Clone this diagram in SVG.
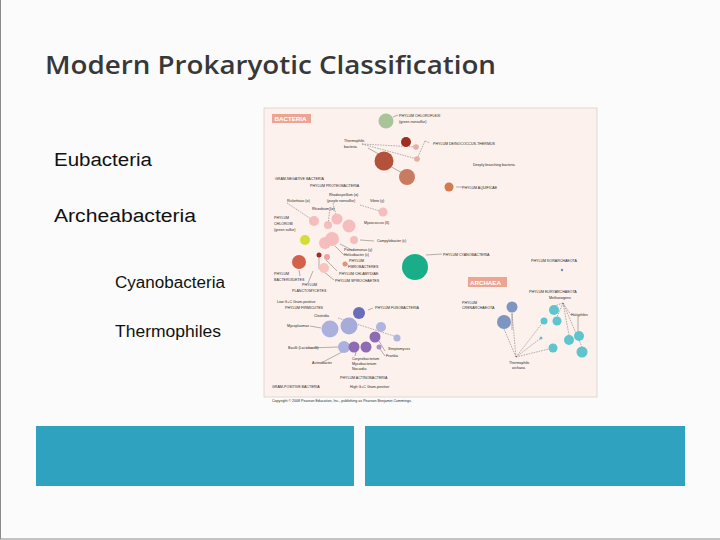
<svg xmlns="http://www.w3.org/2000/svg" width="720" height="540" viewBox="0 0 720 540">
<style>
.t{font-family:"Liberation Sans",Arial,sans-serif;fill:#2a2a2a;font-size:3.6px}
.h{font-family:"Open Sans","DejaVu Sans",sans-serif;fill:#383838;font-weight:600}
.b{font-family:"Liberation Sans",Arial,sans-serif;fill:#111}
.d{stroke:#444;stroke-width:0.4;fill:none;stroke-dasharray:1.6 1}
.s{stroke:#444;stroke-width:0.4;fill:none}
.box{fill:#2EA2BE}
</style>
<rect x="0" y="0" width="720" height="540" fill="#FBFBFB"/>
<rect x="0.5" y="-1" width="720" height="540" fill="none" stroke="#8a8a8a" stroke-width="1"/>
<g id="title"><text class="h" x="45" y="74" font-size="26" textLength="451" lengthAdjust="spacingAndGlyphs">Modern Prokaryotic Classification</text></g>
<g id="bullets">
<text class="b" x="54" y="166" font-size="18" textLength="98" lengthAdjust="spacingAndGlyphs">Eubacteria</text>
<text class="b" x="54" y="222" font-size="18" textLength="142" lengthAdjust="spacingAndGlyphs">Archeabacteria</text>
<text class="b" x="115" y="288" font-size="16" textLength="110" lengthAdjust="spacingAndGlyphs">Cyanobacteria</text>
<text class="b" x="115" y="337" font-size="16" textLength="106" lengthAdjust="spacingAndGlyphs">Thermophiles</text>
</g>
<g id="boxes">
<rect class="box" x="36" y="426" width="318" height="60"/>
<rect class="box" x="365" y="426" width="320" height="60"/>
</g>
<g id="figure">
<rect x="264" y="108" width="333" height="289" fill="#FCF1EC" stroke="#d8d0cc" stroke-width="0.8"/>
<text class="t" x="272" y="402" font-size="2.8" fill="#666">Copyright © 2008 Pearson Education, Inc., publishing as Pearson Benjamin Cummings.</text>
<g id="connectors">
<path class="d" d="M362 144 L416 147 M362 144 L417 159 M425 141 L417 159 M425 141 L430 143"/>
<path class="s" d="M368 148 L384 157 M388 165 L404 174 M393 117 L398 115"/>
<path class="s" d="M456 187 L462 187"/>
<path class="d" d="M287 203 L314 221 M330 207 L328 225 M333 203 L337 219 M360 205 L383 212"/>
<path class="s" d="M374 241 L360 240 M352 250 L340 244 M344 255 L335 246 M319 257 L319 269 M326 260 L337 271 M323 271 L334 280 M345 265 L348 264"/>
<path class="s" d="M300 276 L299 270 M308 283 L313 271 M426 255 L442 254"/>
<path class="s" d="M368 310 L373 308 M310 326 L321 328 M310 348 L338 347 M323 362 L342 352 M355 356 L356 352 M385 351 L379 341 M385 356 L380 349"/>
<path class="d" d="M338 318 L397 337"/>
<path class="s" d="M512 313 L512 330 M578 316 L578 331"/>
<path class="d" d="M516 357 L504 329 M516 357 L512 313 M516 357 L544 321 M516 357 L541 338 M516 357 L553 348 M563 303 L554 306 M563 303 L557 317 M563 303 L569 335 M563 303 L582 347 M563 303 L571 315"/>
</g>
<g id="bacteria-label"><rect x="272" y="114" width="39" height="9" fill="#EBA593"/><text x="274.5" y="121" font-family="Liberation Sans,Arial,sans-serif" font-weight="bold" font-size="6.2" fill="#fff">BACTERIA</text></g>
<g id="archaea-label"><rect x="468" y="277" width="39" height="10" fill="#EBA593"/><text x="470" y="284.5" font-family="Liberation Sans,Arial,sans-serif" font-weight="bold" font-size="6.2" fill="#fff">ARCHAEA</text></g>
<g id="chloroflexi"><circle cx="386" cy="121" r="7.5" fill="#A9C498"/><text class="t" x="399" y="117">PHYLUM CHLOROFLEXI</text><text class="t" x="399" y="123">(green nonsulfur)</text></g>
<g id="thermophilic-bacteria"><text class="t" x="344" y="142">Thermophilic</text><text class="t" x="344" y="148">bacteria</text>
<circle cx="406" cy="142" r="5" fill="#9E2E22"/><circle cx="416" cy="147" r="2.8" fill="#E6AE9E"/><circle cx="417" cy="159" r="2.8" fill="#E6AE9E"/>
<circle cx="384" cy="161" r="9.5" fill="#B4513A"/><circle cx="407" cy="177" r="8" fill="#C97B62"/></g>
<g id="deinococcus"><text class="t" x="433" y="145">PHYLUM DEINOCOCCUS-THERMUS</text><text class="t" x="473" y="166">Deeply branching bacteria</text></g>
<g id="aquificae"><circle cx="449" cy="187" r="4.5" fill="#D27C4E"/><text class="t" x="462" y="189">PHYLUM AQUIFICAE</text></g>
<g id="proteobacteria"><text class="t" x="275" y="180">GRAM-NEGATIVE BACTERIA</text><text class="t" x="310" y="187" font-size="4">PHYLUM PROTEOBACTERIA</text>
<text class="t" x="287" y="202">Rickettsias (α)</text><text class="t" x="329" y="196">Rhodospirillum (α)</text><text class="t" x="327" y="202">(purple nonsulfur)</text><text class="t" x="370" y="202">Vibrio (γ)</text>
<text class="t" x="312" y="210">Rhizobium (α)</text><text class="t" x="364" y="224">Myxococcus (δ)</text><text class="t" x="377" y="242">Campylobacter (ε)</text><text class="t" x="344" y="251">Pseudomonas (γ)</text>
<circle cx="314" cy="221" r="5" fill="#F5BDBC"/><circle cx="328" cy="225" r="4" fill="#F5BDBC"/><circle cx="337" cy="219" r="5.5" fill="#F5BDBC"/><circle cx="349" cy="226" r="6.5" fill="#F5BDBC"/><circle cx="383" cy="212" r="4.5" fill="#F5BDBC"/><circle cx="354" cy="240" r="4" fill="#F5BDBC"/><circle cx="332" cy="239" r="7" fill="#F5BDBC"/><circle cx="325" cy="243" r="6" fill="#F5BDBC"/></g>
<g id="chlorobi"><circle cx="305" cy="240" r="5" fill="#D4DC38"/><text class="t" x="274" y="219">PHYLUM</text><text class="t" x="274" y="225">CHLOROBI</text><text class="t" x="274" y="231">(green sulfur)</text></g>
<g id="bacteroidetes"><circle cx="299" cy="262" r="7" fill="#D2604A"/><text class="t" x="274" y="275">PHYLUM</text><text class="t" x="274" y="281">BACTEROIDETES</text></g>
<g id="planctomycetes"><circle cx="319" cy="255" r="2.5" fill="#9E2E22"/><text class="t" x="302" y="286">PHYLUM</text><text class="t" x="292" y="292">PLANCTOMYCETES</text></g>
<g id="fibrobacteres"><circle cx="345" cy="264" r="2.5" fill="#E4937A"/><text class="t" x="344" y="256">Helicobacter (ε)</text><text class="t" x="349" y="262">PHYLUM</text><text class="t" x="348" y="268">FIBROBACTERES</text></g>
<g id="chlamydiae"><circle cx="327" cy="257" r="3" fill="#EFA3A0"/><text class="t" x="339" y="275">PHYLUM CHLAMYDIAE</text></g>
<g id="spirochaetes"><circle cx="324" cy="268" r="5" fill="#F6C6BC"/><text class="t" x="335" y="282">PHYLUM SPIROCHAETES</text></g>
<g id="cyanobacteria"><circle cx="415" cy="267" r="13" fill="#1AAE88"/><text class="t" x="443" y="256">PHYLUM CYANOBACTERIA</text></g>
<g id="korarchaeota"><circle cx="562" cy="270" r="1.2" fill="#6F8FC0"/><text class="t" x="531" y="262">PHYLUM KORARCHAEOTA</text></g>
<g id="firmicutes"><text class="t" x="277" y="303">Low G+C Gram-positive</text><text class="t" x="285" y="309">PHYLUM FIRMICUTES</text>
<text class="t" x="314" y="317">Clostridia</text><text class="t" x="287" y="327">Mycoplasmas</text><text class="t" x="288" y="349">Bacilli (Lactobacilli)</text>
<circle cx="330" cy="329" r="8.5" fill="#AAB1DE"/><circle cx="349" cy="326" r="8.5" fill="#A5ACDA"/><circle cx="381" cy="327" r="5" fill="#AEB6DF"/><circle cx="397" cy="338" r="3.5" fill="#AEB6DF"/><circle cx="344" cy="347" r="6" fill="#AAB1DE"/></g>
<g id="fusobacteria"><circle cx="359" cy="313" r="6" fill="#6A6EB8"/><text class="t" x="375" y="309">PHYLUM FUSOBACTERIA</text></g>
<g id="actinobacteria"><circle cx="375" cy="337" r="5.5" fill="#8E6BB2"/><circle cx="379" cy="347" r="2.5" fill="#AB8EC6"/><circle cx="354" cy="347" r="5.5" fill="#8E6BB2"/><circle cx="366" cy="347" r="5.5" fill="#8E6BB2"/>
<text class="t" x="312" y="364">Actinobacter</text><text class="t" x="352" y="360">Corynebacterium</text><text class="t" x="352" y="365">Mycobacterium</text><text class="t" x="352" y="370">Nocardia</text><text class="t" x="388" y="350">Streptomyces</text><text class="t" x="386" y="357">Frankia</text>
<text class="t" x="340" y="379" font-size="4">PHYLUM ACTINOBACTERIA</text><text class="t" x="272" y="388" font-size="4">GRAM-POSITIVE BACTERIA</text><text class="t" x="350" y="388" font-size="4">High G+C Gram-positive</text></g>
<g id="crenarchaeota"><circle cx="512" cy="307" r="5.5" fill="#7D95C0"/><circle cx="504" cy="322" r="7" fill="#7D95C0"/><text class="t" x="462" y="304">PHYLUM</text><text class="t" x="462" y="309">CRENARCHAEOTA</text></g>
<g id="euryarchaeota"><text class="t" x="529" y="293">PHYLUM EURYARCHAEOTA</text><text class="t" x="549" y="299" font-size="3">Methanogens</text><text class="t" x="571" y="316" font-size="3">Halophiles</text>
<circle cx="554" cy="310" r="5" fill="#5EC4CD"/><circle cx="557" cy="321" r="4.5" fill="#5EC4CD"/><circle cx="544" cy="321" r="3.5" fill="#5EC4CD"/><circle cx="541" cy="338" r="1.5" fill="#5EC4CD"/><circle cx="553" cy="348" r="4.5" fill="#5EC4CD"/><circle cx="569" cy="340" r="5" fill="#5EC4CD"/><circle cx="579" cy="336" r="5" fill="#5EC4CD"/><circle cx="582" cy="352" r="5.5" fill="#5EC4CD"/></g>
<g id="thermophilic-archaea"><text class="t" x="509" y="364">Thermophilic</text><text class="t" x="512" y="369">archaea</text></g>
</g>
</svg>
